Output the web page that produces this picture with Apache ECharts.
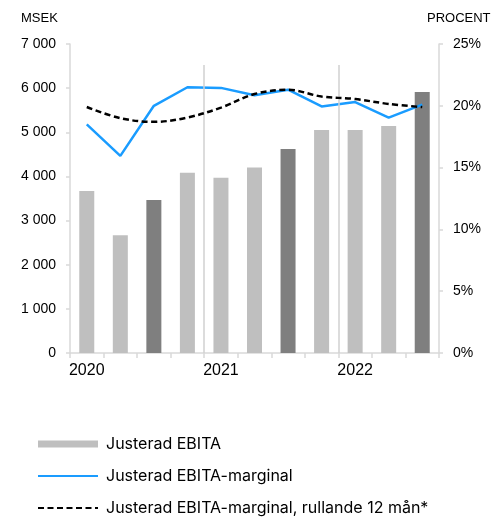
<!DOCTYPE html>
<html>
<head>
<meta charset="utf-8">
<script src="https://cdn.jsdelivr.net/npm/echarts@6/dist/echarts.min.js"></script>
<style>html,body{margin:0;padding:0;background:#fff;}#c{width:502px;height:517px;}</style>
</head>
<body>
<div id="c"></div>
<script>
var quarters = ['Q1 2020','Q2 2020','Q3 2020','Q4 2020','Q1 2021','Q2 2021','Q3 2021','Q4 2021','Q1 2022','Q2 2022','Q3 2022'];
var ebita = [3670, 2670, 3465, 4085, 3970, 4205, 4620, 5050, 5050, 5145, 5915];
var margin = [18.5, 15.95, 20.0, 21.5, 21.45, 20.85, 21.3, 19.95, 20.3, 19.05, 20.1];
var marginR12 = [19.9, 19.0, 18.7, 19.05, 19.85, 20.95, 21.3, 20.75, 20.55, 20.15, 19.9];
var leftTicks = [0, 1000, 2000, 3000, 4000, 5000, 6000, 7000];
var rightTicks = [0, 5, 10, 15, 20, 25];
var yearBoundaries = [4, 8];

var highlightQuarter = 'Q3';
var barData = ebita.map(function (v, i) {
  return quarters[i].indexOf(highlightQuarter) === 0
    ? { value: v, itemStyle: { color: '#7F7F7F' } }
    : v;
});

var chart = echarts.init(document.getElementById('c'), null, { renderer: 'canvas' });
var axisColor = '#D9D9D9';
var font = 'Liberation Sans, Arial, sans-serif';

chart.setOption({
  animation: false,
  backgroundColor: '#fff',
  textStyle: { fontFamily: font },
  title: [
    { text: 'MSEK', left: 16, top: 7, textStyle: { fontSize: 13, fontWeight: 'normal', color: '#000', fontFamily: font } },
    { text: 'PROCENT', left: 422, top: 7, textStyle: { fontSize: 13, fontWeight: 'normal', color: '#000', fontFamily: font } }
  ],
  grid: { left: 70, right: 63, top: 44, bottom: 164 },
  legend: {
    orient: 'vertical',
    left: 37,
    top: 435,
    height: 100,
    padding: 0,
    itemWidth: 60,
    itemHeight: 7,
    itemGap: 14,
    textStyle: { fontFamily: 'Inter, sans-serif', fontSize: 16, color: '#000', lineHeight: 18, padding: [0, 0, 0, 3] },
    data: [
      { name: 'Justerad EBITA', icon: 'rect' },
      { name: 'Justerad EBITA-marginal', itemStyle: { opacity: 0 } },
      { name: 'Justerad EBITA-marginal, rullande 12 mån*', itemStyle: { opacity: 0 } }
    ]
  },
  xAxis: [
    {
      type: 'category',
      data: quarters,
      boundaryGap: true,
      axisLine: { show: true, lineStyle: { color: axisColor, width: 1.5 } },
      axisTick: { show: true, length: 5, interval: 0, lineStyle: { color: axisColor, width: 1.5 } },
      axisLabel: {
        interval: 0,
        margin: 10,
        fontSize: 16,
        color: '#000',
        formatter: function (v, i) { return i % 4 === 0 ? v.split(' ')[1] : ''; }
      },
      splitLine: { show: false }
    },
    {
      type: 'value',
      min: 0,
      max: quarters.length,
      show: false
    }
  ],
  yAxis: [
    {
      type: 'value',
      min: 0,
      max: leftTicks[leftTicks.length - 1],
      interval: leftTicks[1] - leftTicks[0],
      axisLine: { show: true, lineStyle: { color: axisColor, width: 1.5 } },
      axisTick: { show: true, length: 4, lineStyle: { color: axisColor, width: 1.5 } },
      axisLabel: {
        fontSize: 14, color: '#000', margin: 14,
        formatter: function (v) { return String(v).replace(/\B(?=(\d{3})+(?!\d))/g, ' '); }
      },
      splitLine: { show: false }
    },
    {
      type: 'value',
      min: 0,
      max: rightTicks[rightTicks.length - 1],
      interval: rightTicks[1] - rightTicks[0],
      position: 'right',
      axisLine: { show: true, lineStyle: { color: axisColor, width: 1.5 } },
      axisTick: { show: true, length: 4, lineStyle: { color: axisColor, width: 1.5 } },
      axisLabel: { fontSize: 14, color: '#000', margin: 14, formatter: '{value}%' },
      splitLine: { show: false }
    }
  ],
  series: [
    {
      name: 'year-lines',
      type: 'line',
      xAxisIndex: 1,
      yAxisIndex: 0,
      data: [],
      silent: true,
      markLine: {
        symbol: 'none',
        silent: true,
        label: { show: false },
        lineStyle: { color: '#D0D0D0', width: 1.5, type: 'solid' },
        data: yearBoundaries.map(function (b) {
          return [{ coord: [b, 6525] }, { coord: [b, 0] }];
        })
      }
    },
    {
      name: 'Justerad EBITA',
      type: 'bar',
      yAxisIndex: 0,
      barWidth: 15,
      itemStyle: { color: '#BFBFBF' },
      data: barData,
      z: 2
    },
    {
      name: 'Justerad EBITA-marginal',
      type: 'line',
      yAxisIndex: 1,
      symbol: 'none',
      lineStyle: { color: '#1A9CFF', width: 2.5 },
      itemStyle: { color: '#1A9CFF' },
      data: margin,
      z: 4
    },
    {
      name: 'Justerad EBITA-marginal, rullande 12 mån*',
      type: 'line',
      yAxisIndex: 1,
      symbol: 'none',
      smooth: 0.35,
      lineStyle: { color: '#000', width: 2.5, type: [6, 3.5] },
      itemStyle: { color: '#000' },
      data: marginR12,
      z: 5
    }
  ]
});
</script>
</body>
</html>
